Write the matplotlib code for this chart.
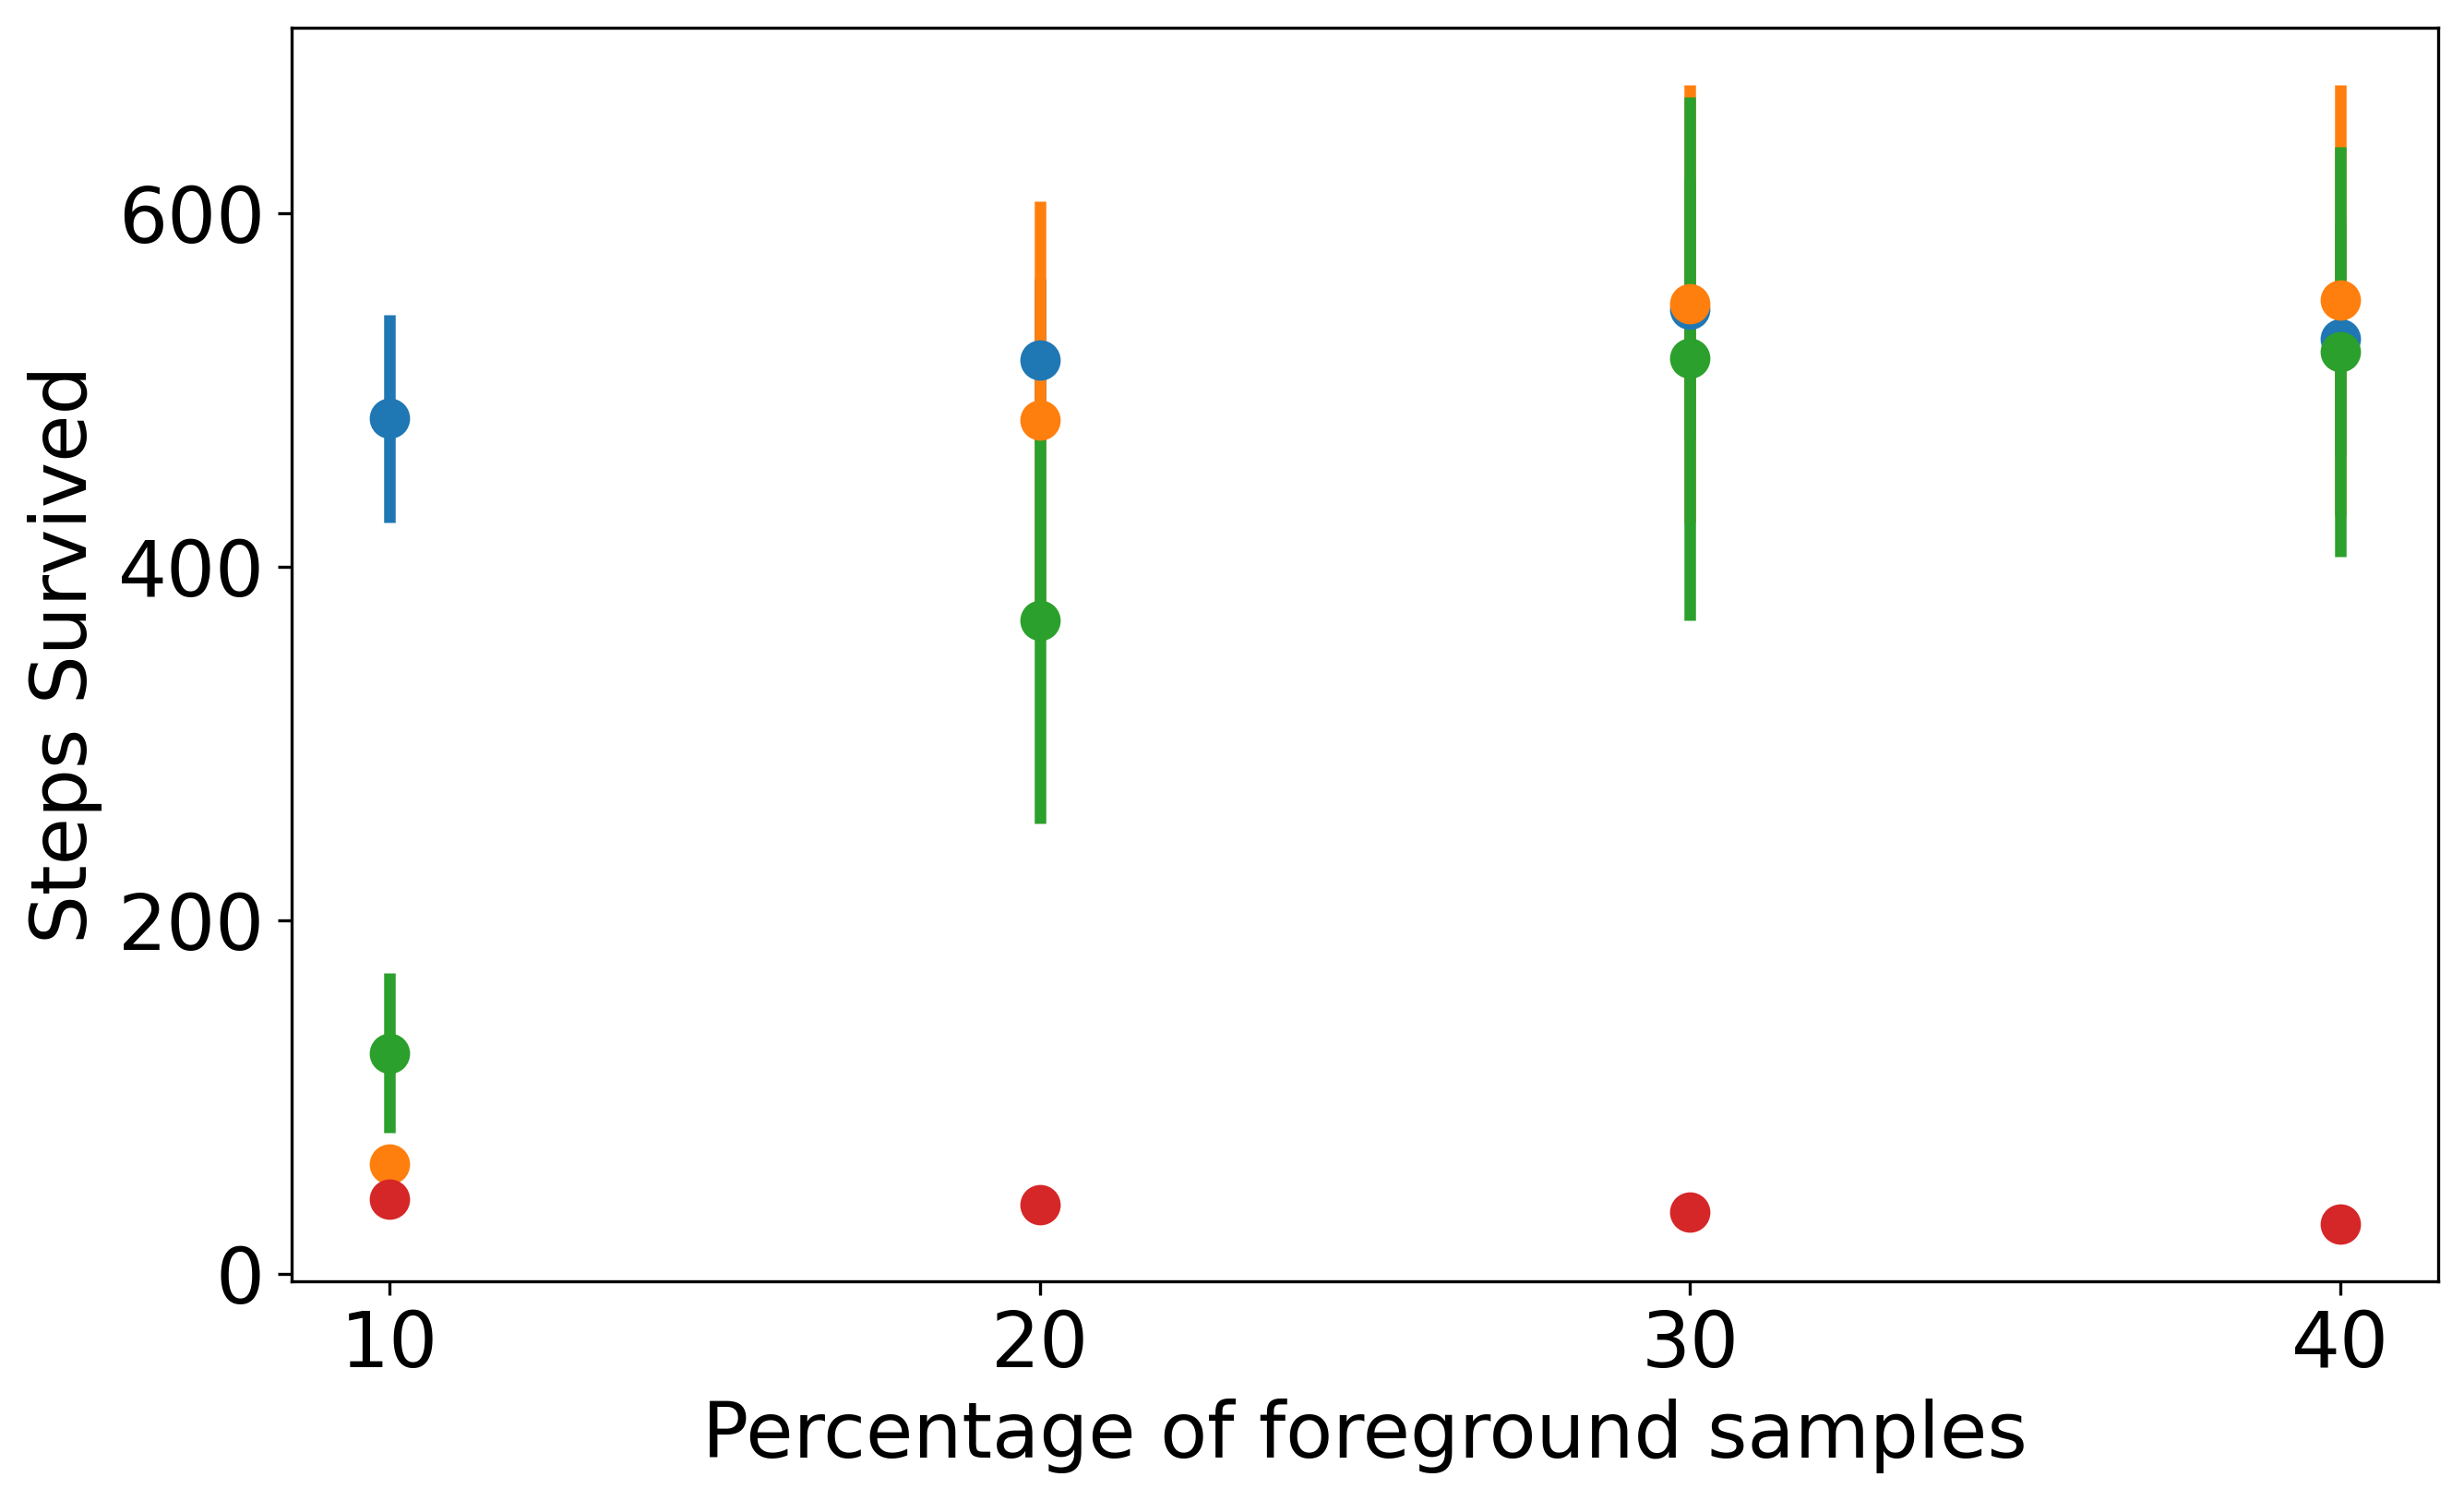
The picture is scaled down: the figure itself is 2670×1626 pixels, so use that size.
import matplotlib
matplotlib.use("Agg")
import matplotlib.pyplot as plt

x = [10, 20, 30, 40]

blue_mean = [484, 517, 546, 529]
blue_err = [59, 46, 74, 66]

orange_mean = [62, 483, 549, 551]
orange_err = [0, 124, 124, 122]

green_mean = [125, 370, 518, 522]
green_err = [45, 115, 148, 116]

red_mean = [42, 39, 35, 28]
red_err = [0, 0, 0, 0]

series = [
    (blue_mean, blue_err, "tab:blue"),
    (orange_mean, orange_err, "tab:orange"),
    (green_mean, green_err, "tab:green"),
    (red_mean, red_err, "tab:red"),
]

plt.rcParams["font.size"] = 20
fig = plt.figure(figsize=(8.9, 5.42), dpi=300)
ax = fig.add_axes([316 / 2670, 1 - 1388 / 1626, (2642 - 316) / 2670, (1388 - 30) / 1626])

for mean, err, col in series:
    ax.errorbar(x, mean, yerr=err, fmt="o", color=col, markersize=9.5,
                elinewidth=3, capsize=0)

ax.set_xticks(x)
ax.set_yticks([0, 200, 400, 600])
ax.set_xlabel("Percentage of foreground samples")
ax.set_ylabel("Steps Survived")

fig.savefig("out.png", dpi=300)
